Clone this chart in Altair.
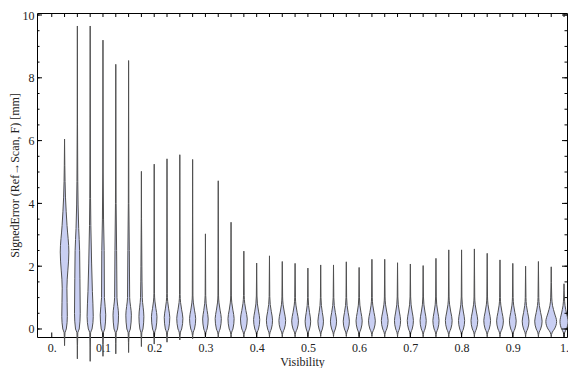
import altair as alt
import pandas as pd

# violin positions (Visibility)
vis = [0.025, 0.05, 0.075, 0.1, 0.125, 0.15, 0.175, 0.2, 0.225, 0.25,
       0.275, 0.3, 0.325, 0.35, 0.375, 0.4, 0.425, 0.45, 0.475, 0.5,
       0.525, 0.55, 0.575, 0.6, 0.625, 0.65, 0.675, 0.7, 0.725, 0.75,
       0.775, 0.8, 0.825, 0.85, 0.875, 0.9, 0.925, 0.95, 0.975, 1.0]
# maximum / minimum signed error of each violin [mm]
err_max = [6.05, 9.65, 9.65, 9.2, 8.43, 8.55, 5.02, 5.25, 5.42, 5.55,
           5.4, 3.03, 4.72, 3.4, 2.48, 2.1, 2.33, 2.15, 2.09, 1.94,
           2.04, 2.04, 2.14, 1.96, 2.22, 2.22, 2.11, 2.07, 2.02, 2.25,
           2.52, 2.52, 2.55, 2.41, 2.2, 2.09, 2.0, 2.15, 1.98, 1.44]
err_min = [-0.53, -0.95, -1.03, -0.87, -0.79, -0.75, -0.56, -0.48, -0.42, -0.35,
           -0.31, -0.28, -0.27, -0.26, -0.26, -0.25, -0.25, -0.25, -0.25, -0.24,
           -0.24, -0.24, -0.24, -0.24, -0.24, -0.25, -0.25, -0.25, -0.25, -0.25,
           -0.25, -0.25, -0.25, -0.25, -0.25, -0.25, -0.25, -0.25, -0.25, -0.25]
# location of the densest error value
err_mode = [2.45, 0.5, 0.4, 0.45, 0.44, 0.44, 0.39, 0.39, 0.37, 0.34,
            0.33, 0.32, 0.33, 0.33, 0.32, 0.3, 0.28, 0.27, 0.26, 0.25,
            0.25, 0.25, 0.25, 0.26, 0.26, 0.27, 0.27, 0.27, 0.27, 0.27,
            0.27, 0.27, 0.27, 0.27, 0.26, 0.26, 0.25, 0.25, 0.24, 0.24]
# peak density (violin half width, thousandths of the visibility axis)
peak_density = [8.3, 6.0, 6.5, 5.8, 5.8, 5.8, 5.2, 5.4, 5.4, 6.0,
                6.0, 5.4, 6.0, 6.0, 6.6, 6.0, 6.0, 6.6, 6.6, 5.4,
                5.4, 6.0, 6.0, 6.0, 6.6, 6.6, 6.0, 6.0, 6.0, 6.0,
                6.6, 6.0, 6.6, 6.6, 6.6, 6.6, 6.6, 7.2, 10.5, 7.9]

# detailed density profiles for the low-visibility violins (y, half width)
early_y = {
    0: [-0.53, -0.12, 0.0, 0.4, 1.3, 2.45, 3.3, 4.2, 5.2, 6.05],
    1: [-0.95, -0.12, 0.0, 0.5, 1.6, 2.5, 3.2, 4.7, 6.5, 9.65],
    2: [-1.03, -0.12, 0.0, 0.4, 1.2, 2.1, 3.3, 5.0, 9.65],
    3: [-0.87, -0.12, 0.0, 0.45, 1.0, 2.5, 3.5, 5.0, 9.2],
    4: [-0.79, -0.12, 0.0, 0.44, 1.0, 2.5, 4.0, 8.43],
    5: [-0.75, -0.12, 0.0, 0.44, 1.0, 2.5, 4.0, 8.55],
    6: [-0.56, -0.12, 0.0, 0.39, 1.0, 2.0, 5.02],
}
early_w = {
    0: [0, 0.8, 3.4, 5.4, 4.6, 8.4, 4.8, 1.8, 0.5, 0],
    1: [0, 0.8, 3.6, 5.6, 5.0, 4.4, 2.6, 0.8, 0.3, 0],
    2: [0, 0.8, 3.6, 6.0, 4.3, 2.8, 1.3, 0.5, 0],
    3: [0, 0.8, 3.4, 5.4, 2.8, 2.3, 1.1, 0.4, 0],
    4: [0, 0.8, 3.4, 5.4, 2.3, 1.6, 0.6, 0],
    5: [0, 0.8, 3.4, 5.4, 2.1, 1.4, 0.5, 0],
    6: [0, 0.8, 3.0, 4.8, 1.7, 0.9, 0],
}

x_major = [0.0, 0.1, 0.2, 0.3, 0.4, 0.5, 0.6, 0.7, 0.8, 0.9, 1.0]
x_top_ticks = [0.0] + vis
y_major = [0, 2, 4, 6, 8, 10]
y_minor = [0, 0.5, 1, 1.5, 2, 2.5, 3, 3.5, 4, 4.5, 5, 5.5, 6, 6.5, 7, 7.5,
           8, 8.5, 9, 9.5, 10]

rows = []
for i, v in enumerate(vis):
    if i in early_y:
        ys = early_y[i]
        ws = [w / 1000 for w in early_w[i]]
    else:
        m = err_mode[i]
        w = peak_density[i] / 1000
        ys = [err_min[i], -0.1, 0.0, m, m + 0.27, m + 0.5, m + 0.75, err_max[i]]
        ws = [0, 0.2 * w, 0.6 * w, w, 0.6 * w, 0.25 * w, 0.1 * w, 0]
    for yy, ww in zip(ys, ws):
        rows.append({"vid": i, "y": yy, "xlo": v - ww, "xhi": v + ww})
df = pd.DataFrame(rows).sort_values(["vid", "y"])

W, H = 530, 324
xscale = alt.Scale(domain=[-0.0288, 1.0058], nice=False, zero=False)
yscale = alt.Scale(domain=[-0.255, 10.064], nice=False, zero=False)
FONT = "Liberation Serif"

xaxis = alt.Axis(
    values=x_major, ticks=False, domain=False, grid=False,
    labelExpr="datum.value == 0 ? '0.' : datum.value == 1 ? '1.' : format(datum.value, '.1f')",
    labelFont=FONT, labelFontSize=12, labelColor="#222", labelPadding=5,
    title="Visibility", titleFont=FONT, titleFontSize=12, titleFontWeight="normal",
    titleColor="#222", titlePadding=3)
yaxis = alt.Axis(
    values=y_major, ticks=False, domain=False, grid=False,
    labelFont=FONT, labelFontSize=12, labelColor="#222", labelPadding=3,
    title="SignedError (Ref→Scan, F) [mm]", titleFont=FONT, titleFontSize=12,
    titleFontWeight="normal", titleColor="#222", titlePadding=1)

violins = alt.Chart(df).mark_area(
    orient="horizontal", interpolate="monotone", fill="#c9cff3",
    stroke="#505050", strokeWidth=1, opacity=1
).encode(
    x=alt.X("xlo:Q", scale=xscale, stack=None, axis=xaxis),
    x2="xhi:Q",
    y=alt.Y("y:Q", scale=yscale, axis=yaxis),
    detail="vid:N",
)

def xticks(vals, y1, y2):
    return alt.Chart(pd.DataFrame({"t": vals})).mark_rule(color="black", strokeWidth=1).encode(
        x=alt.X("t:Q", scale=xscale, axis=xaxis), y=alt.value(y1), y2=alt.value(y2))

def yticks(vals, x1, x2):
    return alt.Chart(pd.DataFrame({"t": vals})).mark_rule(color="black", strokeWidth=1).encode(
        y=alt.Y("t:Q", scale=yscale, axis=yaxis), x=alt.value(x1), x2=alt.value(x2))

chart = alt.layer(
    violins,
    xticks(x_top_ticks, 0, 4),
    xticks(x_major, H, H - 4.5),
    yticks(y_major, 0, 5),
    yticks(y_minor, 0, 2.5),
    yticks(y_major, W, W - 5),
    yticks(y_minor, W, W - 2.5),
).properties(
    width=W, height=H,
    padding={"left": 29, "top": 5, "right": 1, "bottom": 31},
    autosize=alt.AutoSizeParams(type="none"),
).configure(
    background="white",
    view=alt.ViewConfig(stroke="black", strokeWidth=1),
)

chart.save("out.html", embed_options={"renderer": "svg", "actions": False})
